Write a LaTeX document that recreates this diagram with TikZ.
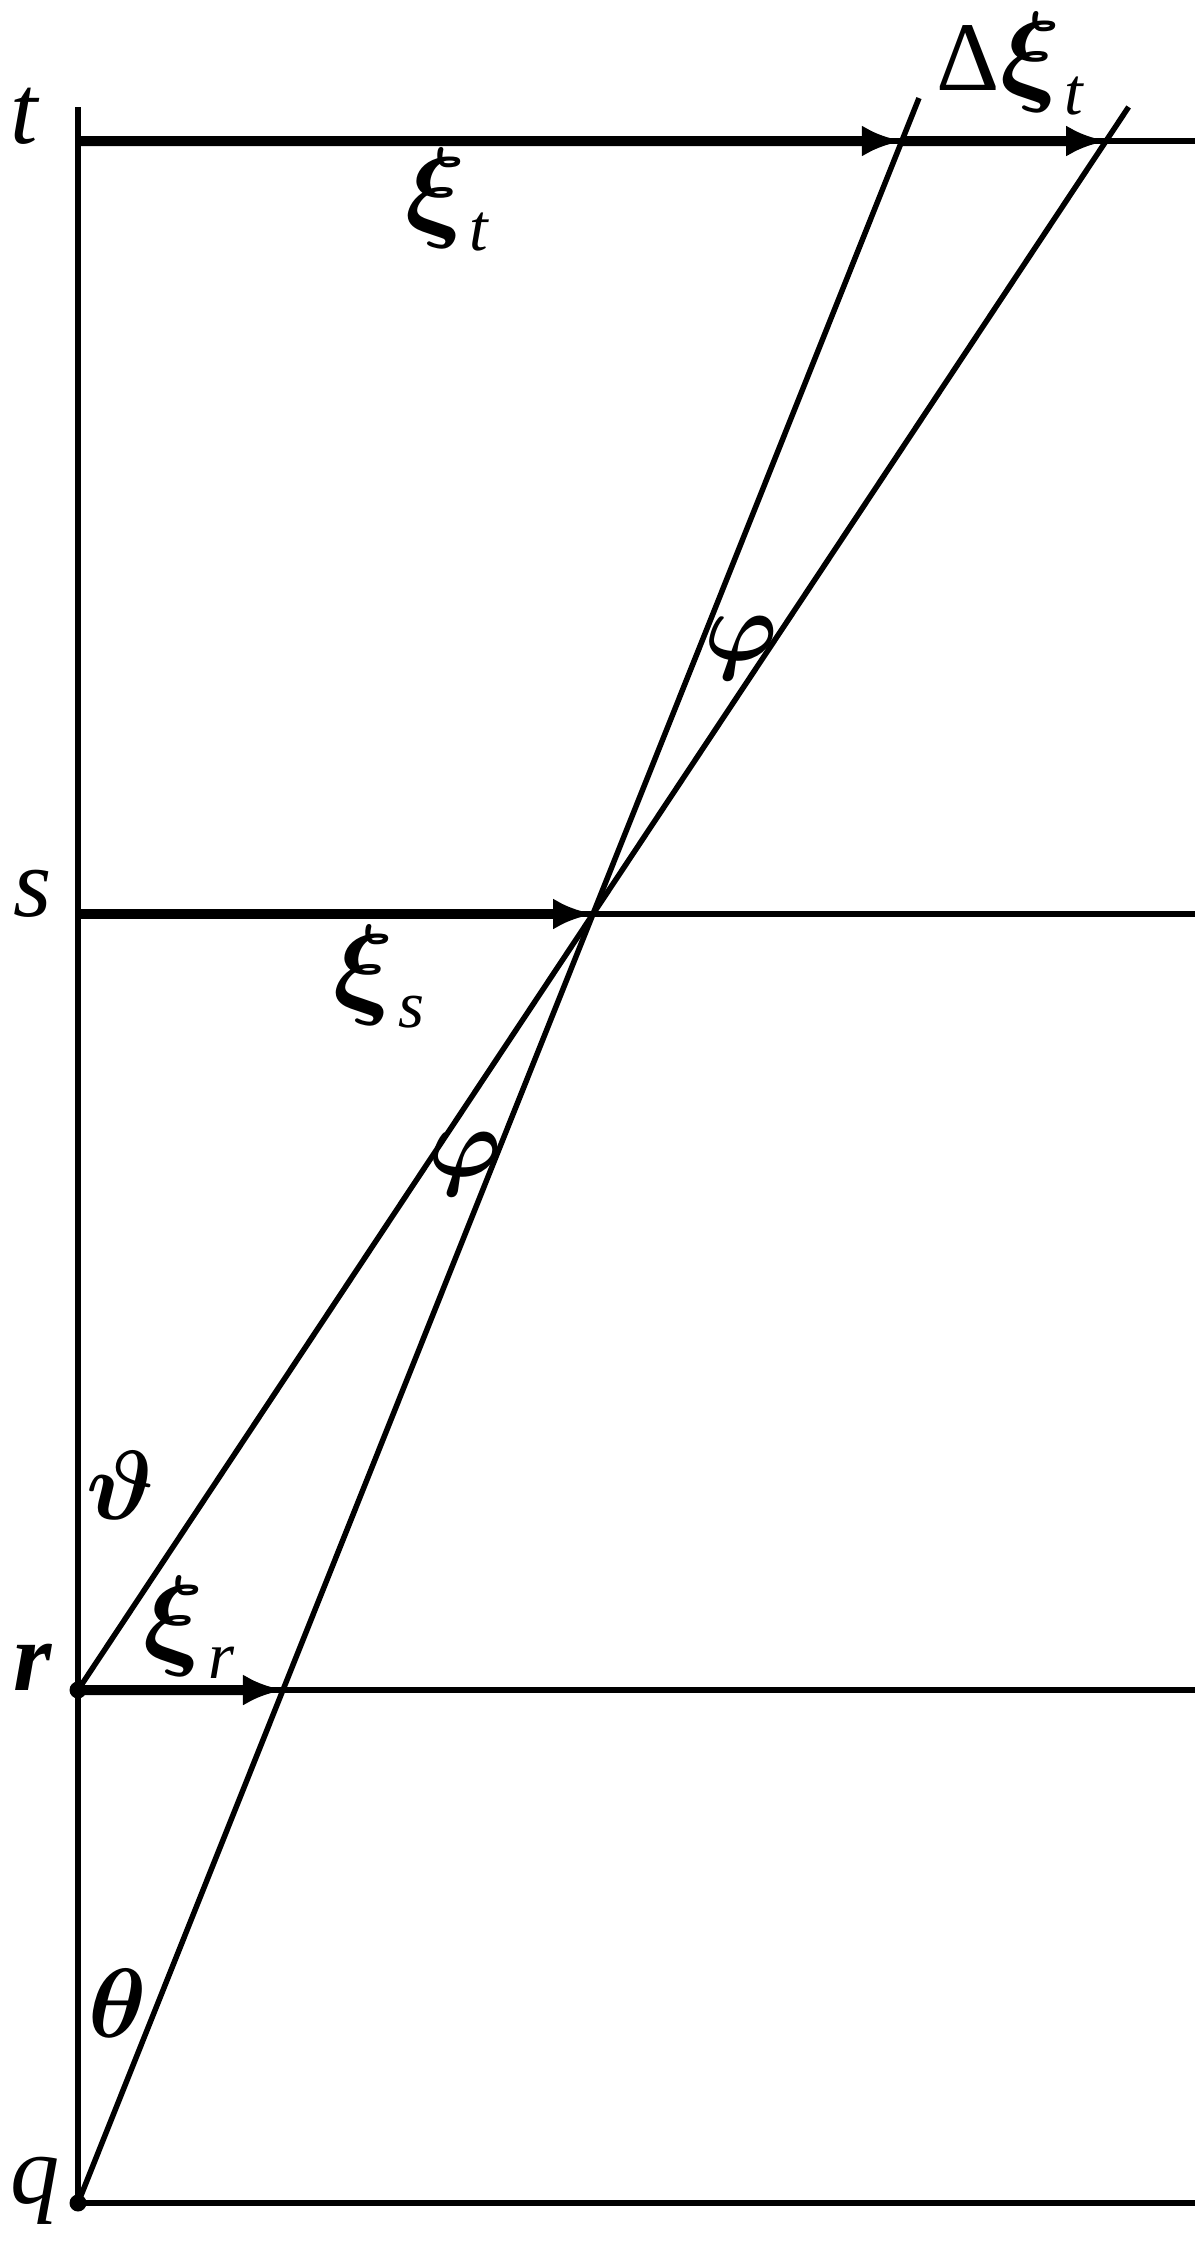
\RequirePackage{fix-cm}
\documentclass[tikz,border=0pt]{standalone}
\usepackage{amsmath}
\usepackage{bm}
\usepackage{fontspec}
\setmainfont{Liberation Serif}
\usepackage{tikz}
\usetikzlibrary{arrows.meta, calc}

\newcommand{\subtxt}[1]{\hspace{0.04em}\raisebox{-0.25em}{\fontsize{19}{20}\selectfont\itshape #1}}
\newcommand{\bxi}{{\fontsize{32}{34}\selectfont$\bm{\xi}$}}

\begin{document}
\begin{tikzpicture}[x=0.1mm, y=-0.1mm]

% styles
\tikzstyle{rule}=[line width=0.55mm]
\tikzstyle{vec}=[line width=1.0mm, -{Latex[length=4mm, width=3.1mm]}]
\tikzstyle{lbl}=[inner sep=0pt, font=\fontsize{28}{30}\selectfont]

\useasboundingbox (0,0) rectangle (1200,2243);

% levels on the axis
\pgfmathsetmacro{\xa}{78}
\pgfmathsetmacro{\xe}{1195}

\coordinate (top) at (\xa,107);
\coordinate (t) at (\xa,141);
\coordinate (s) at (\xa,914);
\coordinate (r) at (\xa,1690);
\coordinate (q) at (\xa,2203);

\coordinate (tend) at (\xe,141);
\coordinate (send) at (\xe,914);
\coordinate (rend) at (\xe,1690);
\coordinate (qend) at (\xe,2203);

% crossing point
\coordinate (S) at (593,914);

\coordinate (R1) at (intersection of q--S and r--rend);
\coordinate (T1) at (intersection of q--S and t--tend);
\coordinate (T2) at (intersection of r--S and t--tend);
\coordinate (qtop) at ($(q)!1.633!(S)$);
\coordinate (rtop) at ($(r)!2.04!(S)$);

% axis and levels
\draw[rule] (top) -- (q);
\draw[rule] (t) -- (tend);
\draw[rule] (s) -- (send);
\draw[rule] (r) -- (rend);
\draw[rule] (q) -- (qend);

% slanted lines
\draw[rule] (q) -- (qtop);
\draw[rule] (r) -- (rtop);

% vectors
\draw[vec] (t) -- (T1);
\draw[vec] (T1) -- (T2);
\draw[vec] (s) -- (S);
\draw[vec] (r) -- (R1);

\fill (r) circle[radius=0.85mm];
\fill (q) circle[radius=0.85mm];

% labels
\node[lbl, anchor=base] (lt) at (25,143) {\textit{t}};
\node[lbl, anchor=base] (ls) at (33,916) {\textit{s}};
\node[lbl, anchor=base] (lr) at (33,1690) {\textbf{\textit{r}}};
\node[lbl, anchor=base] (lq) at (35,2203) {\textit{q}};

\node[lbl, anchor=base] (xit) at (447,226) {\bxi\subtxt{t}};
\node[lbl, anchor=base] (dxit) at (1010,90) {Δ\bxi\subtxt{t}};
\node[lbl, anchor=base] (xis) at (379,1003) {\bxi\subtxt{s}};
\node[lbl, anchor=base] (xir) at (189,1654) {\bxi\subtxt{r}};

\node[lbl] (phiu) at (741,648) {$\bm{\varphi}$};
\node[lbl] (phil) at (465,1164) {$\bm{\varphi}$};
\node[lbl] (vth) at (121,1485) {$\bm{\vartheta}$};
\node[lbl] (th) at (118,2003) {$\bm{\theta}$};

\end{tikzpicture}
\end{document}
